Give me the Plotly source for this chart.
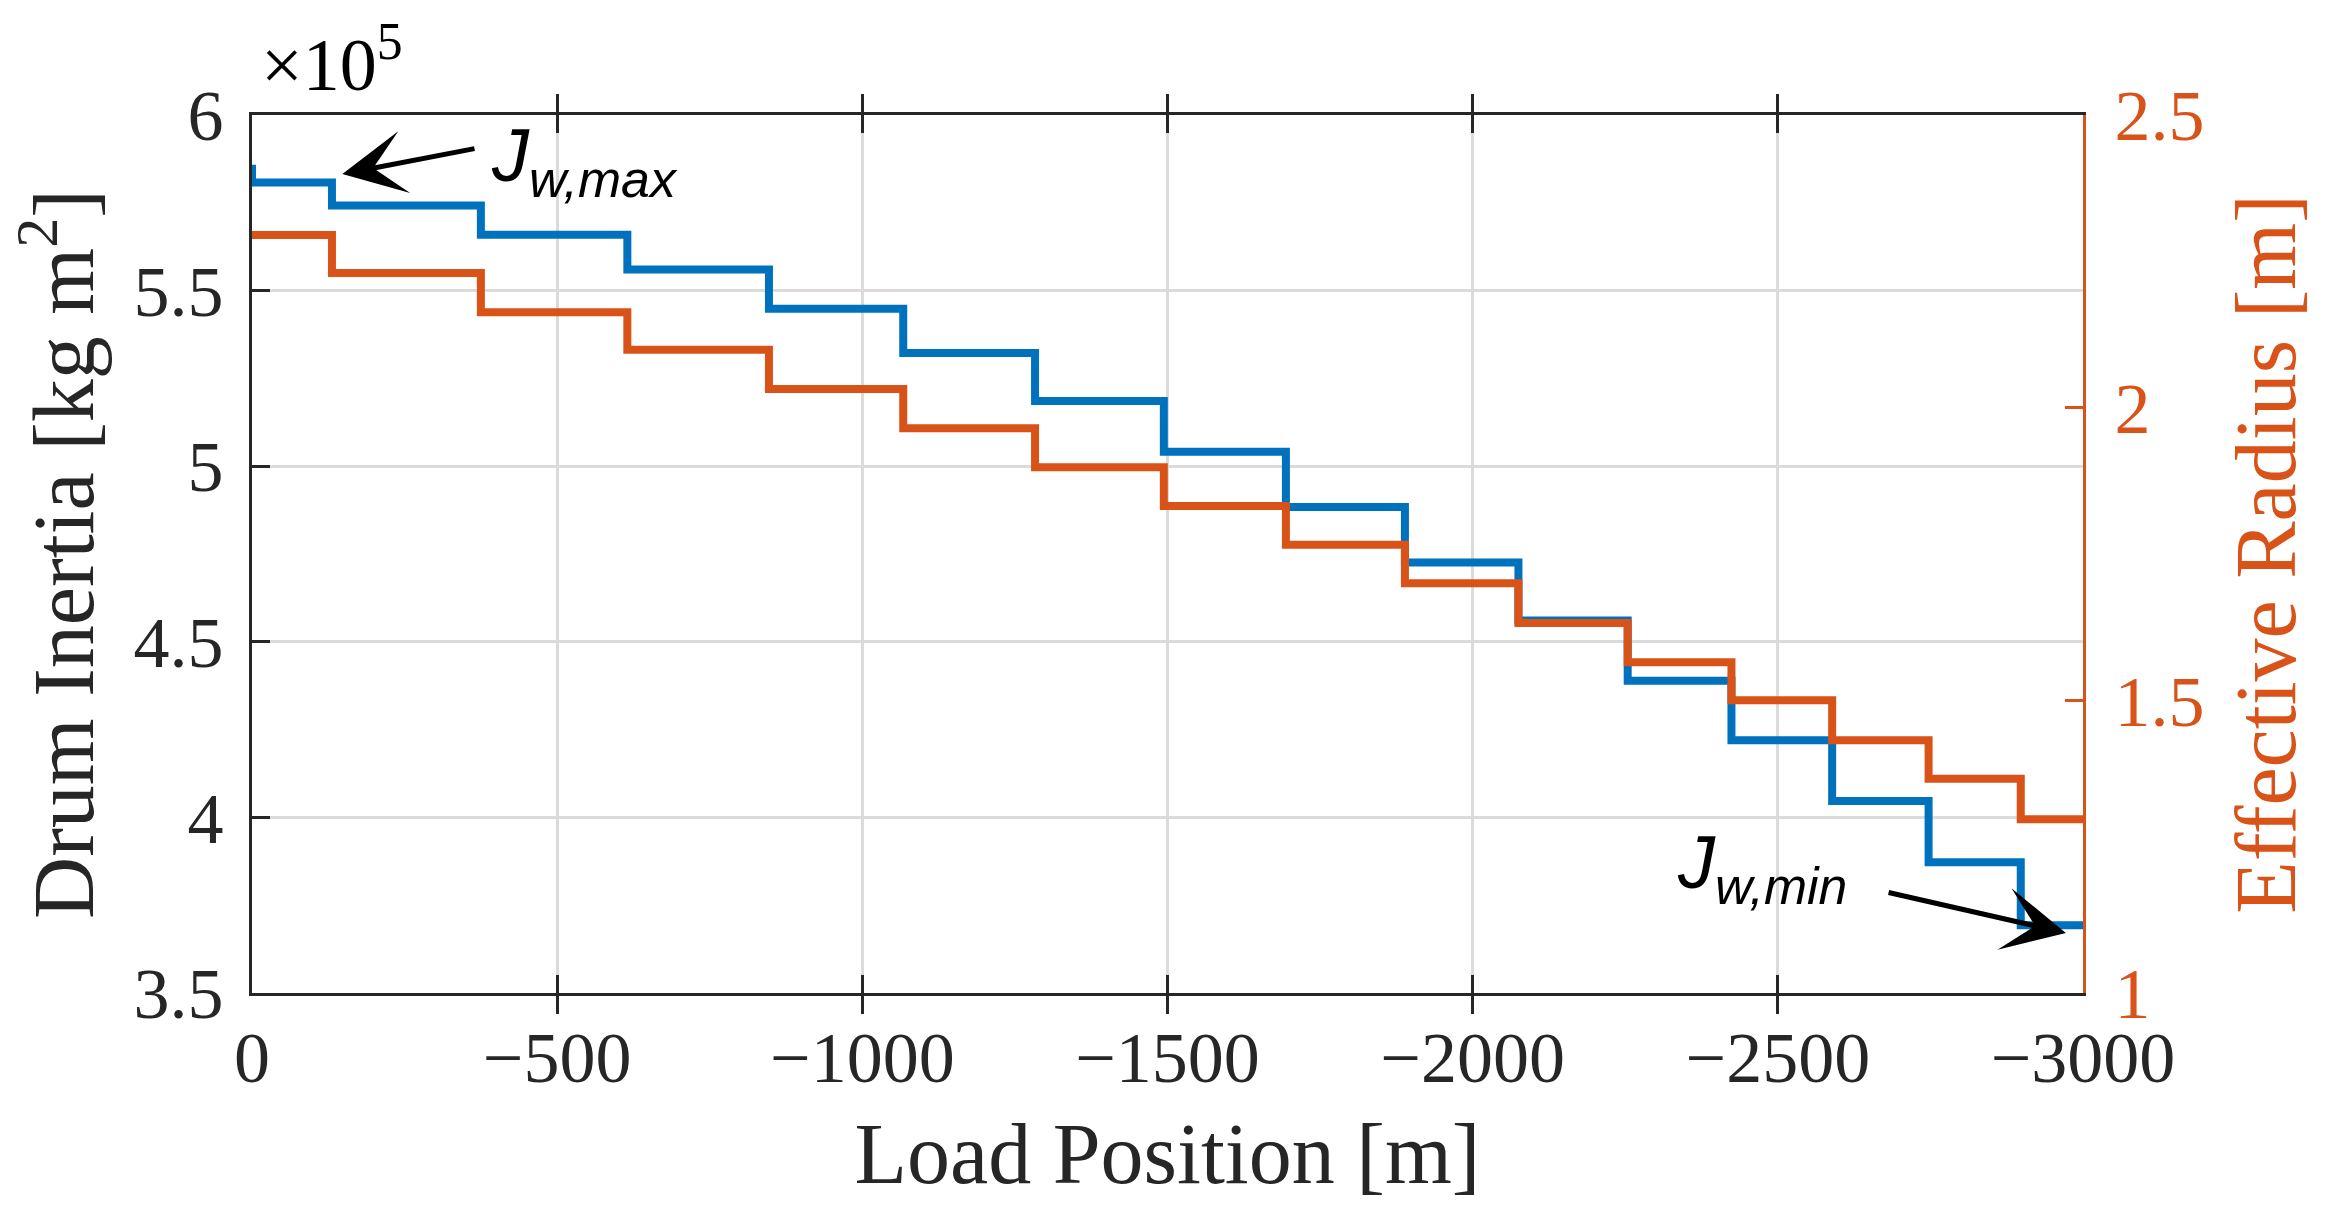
import plotly.graph_objects as go

# ---------------- data ----------------
step_start_m = [0, -131, -375, -615, -847, -1067, -1283, -1494, -1694,
                -1889, -2075, -2254, -2424, -2589, -2747, -2898]
end_position_m = -3000

inertia_initial_1e5 = 5.858          # short spike at x = 0
inertia_1e5 = [5.808, 5.742, 5.659, 5.560, 5.448, 5.322, 5.186, 5.041,
               4.884, 4.726, 4.561, 4.389, 4.220, 4.047, 3.872, 3.693]

radius_m = [2.295, 2.230, 2.163, 2.099, 2.032, 1.965, 1.898, 1.832,
            1.766, 1.700, 1.632, 1.565, 1.500, 1.432, 1.366, 1.297]

x_ticks = [0, -500, -1000, -1500, -2000, -2500, -3000]
x_ticktext = ["0", "\u2212500", "\u22121000", "\u22121500", "\u22122000", "\u22122500", "\u22123000"]
y_ticks = [3.5, 4, 4.5, 5, 5.5, 6]
y_ticktext = ["3.5", "4", "4.5", "5", "5.5", "6"]
y2_ticks = [1, 1.5, 2, 2.5]
y2_ticktext = ["1", "1.5", "2", "2.5"]

# ---------------- styles ----------------
BLUE = "#0072BD"
ORANGE = "#D95319"
AX = "#262626"
GRID = "#DBDBDB"
SERIF = "Liberation Serif"
SANS = "Liberation Sans"

x_blue = [step_start_m[0]] + step_start_m + [end_position_m]
y_blue = [inertia_initial_1e5] + inertia_1e5 + [inertia_1e5[-1]]
x_orange = step_start_m + [end_position_m]
y_orange = radius_m + [radius_m[-1]]

fig = go.Figure()
fig.add_trace(go.Scatter(x=x_blue, y=y_blue, mode="lines", line_shape="hv",
                         line=dict(color=BLUE, width=8), yaxis="y",
                         name="Drum Inertia"))
fig.add_trace(go.Scatter(x=x_orange, y=y_orange, mode="lines", line_shape="hv",
                         line=dict(color=ORANGE, width=8), yaxis="y2",
                         name="Effective Radius"))

fig.update_layout(
    width=2334, height=1227,
    margin=dict(l=252, r=251, t=115, b=234),
    plot_bgcolor="white", paper_bgcolor="white",
    showlegend=False,
    font=dict(family=SERIF, color=AX),
    xaxis=dict(
        range=[0, -3000], tickvals=x_ticks, ticktext=x_ticktext,
        ticks="inside", ticklen=18, tickwidth=3, tickcolor=AX,
        showline=True, linecolor=AX, linewidth=3, mirror="allticks",
        showgrid=True, gridcolor=GRID, gridwidth=3.3, zeroline=False,
        tickfont=dict(size=72, color=AX, family=SERIF),
        title=dict(text="Load Position [m]", font=dict(size=86, color=AX, family=SERIF),
                   standoff=26),
    ),
    yaxis=dict(
        range=[3.5, 6], tickvals=y_ticks, ticktext=y_ticktext,
        ticks="inside", ticklen=18, tickwidth=3, tickcolor=AX,
        showline=True, linecolor=AX, linewidth=3,
        showgrid=True, gridcolor=GRID, gridwidth=3.3, zeroline=False,
        ticklabelstandoff=11,
        tickfont=dict(size=72, color=AX, family=SERIF),
        title=dict(text="Drum Inertia [kg m<sup>2</sup>]",
                   font=dict(size=86, color=AX, family=SERIF), standoff=12),
    ),
    yaxis2=dict(
        range=[1, 2.5], tickvals=y2_ticks, ticktext=y2_ticktext,
        overlaying="y", side="right",
        ticks="inside", ticklen=18, tickwidth=3, tickcolor=ORANGE,
        showline=True, linecolor=ORANGE, linewidth=3,
        showgrid=False, zeroline=False,
        ticklabelstandoff=14,
        tickfont=dict(size=72, color=ORANGE, family=SERIF),
        title=dict(text="Effective Radius [m]",
                   font=dict(size=86, color=ORANGE, family=SERIF), standoff=32),
    ),
)

# exponent label
fig.add_annotation(xref="paper", yref="paper", x=0.004, y=1.063,
                   xanchor="left", yanchor="middle", showarrow=False,
                   text="\u00d710<sup>5</sup>",
                   font=dict(family=SERIF, size=74, color="black"))

# J_w,max annotation
fig.add_annotation(xref="x", yref="y", x=-544, y=5.869, showarrow=False,
                   xanchor="center", yanchor="middle",
                   text="<i>J</i><sub><i>w,max</i></sub>",
                   font=dict(family=SANS, size=74, color="black"))
fig.add_annotation(xref="x", yref="y", x=-148, y=5.832,
                   axref="x", ayref="y", ax=-367, ay=5.905,
                   text="", showarrow=True, arrowhead=3, arrowsize=2.1,
                   arrowwidth=5, arrowcolor="black", standoff=0)

# J_w,min annotation
fig.add_annotation(xref="x", yref="y", x=-2474, y=3.857, showarrow=False,
                   xanchor="center", yanchor="middle",
                   text="<i>J</i><sub><i>w,min</i></sub>",
                   font=dict(family=SANS, size=74, color="black"))
fig.add_annotation(xref="x", yref="y", x=-2972, y=3.671,
                   axref="x", ayref="y", ax=-2679, ay=3.787,
                   text="", showarrow=True, arrowhead=3, arrowsize=2.1,
                   arrowwidth=5, arrowcolor="black", standoff=0)

fig.write_html("out.html")
